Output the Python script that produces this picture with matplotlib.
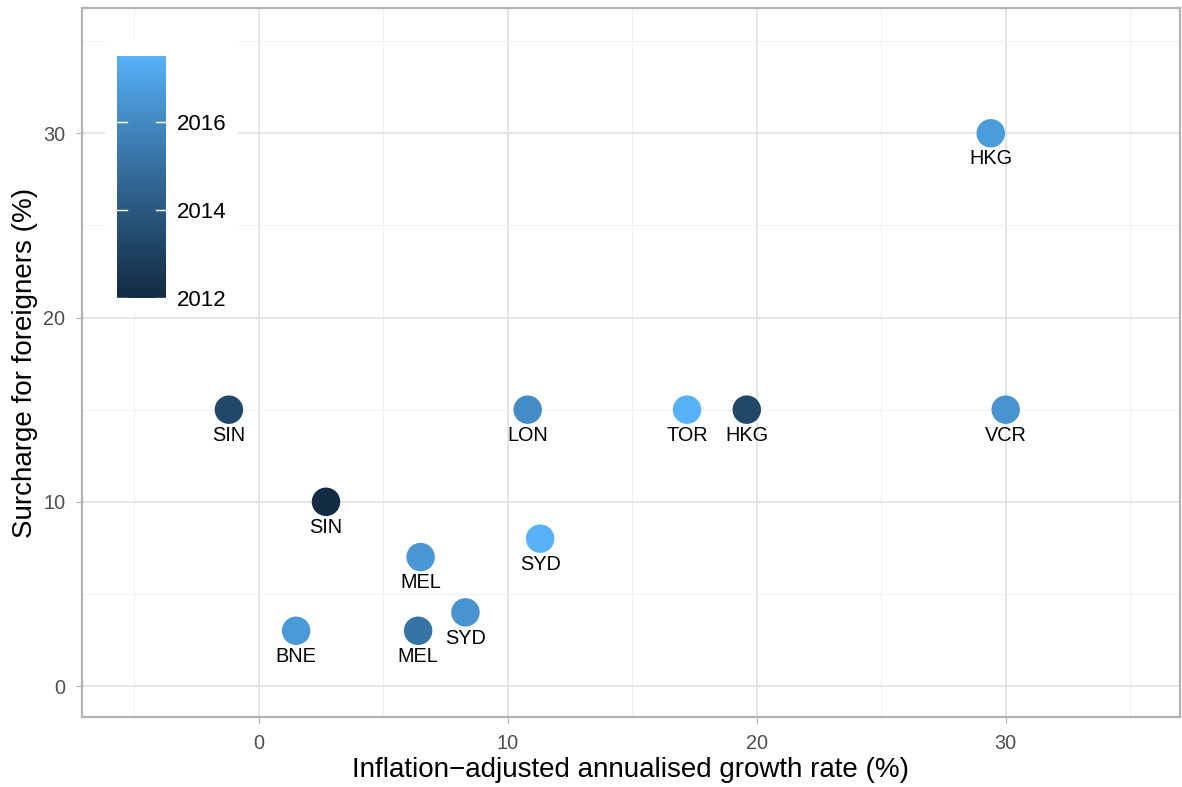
import numpy as np
import matplotlib as mpl
mpl.use('Agg')
import matplotlib.pyplot as plt
from matplotlib.colors import ListedColormap, Normalize

plt.rcParams['font.family'] = ['Liberation Sans', 'DejaVu Sans']

# data
cities = ['SIN', 'SIN', 'BNE', 'MEL', 'MEL', 'SYD', 'SYD', 'LON', 'TOR', 'HKG', 'VCR', 'HKG']
growth = [-1.2, 2.7, 1.5, 6.5, 6.4, 8.3, 11.3, 10.8, 17.2, 19.6, 30.0, 29.4]
surcharge = [15, 10, 3, 7, 3, 4, 8, 15, 15, 15, 15, 30]
year = [2013.3, 2012.0, 2016.6, 2016.5, 2015.1, 2016.4, 2017.5, 2016.1, 2017.5, 2013.3, 2016.4, 2016.7]
cbar_ticks = [2012, 2014, 2016]


# ggplot-style gradient (#132B43 -> #56B1F7) interpolated in Lab space
def srgb_to_lab(c):
    c = np.asarray(c, float)
    lin = np.where(c <= 0.04045, c / 12.92, ((c + 0.055) / 1.055) ** 2.4)
    M = np.array([[0.4124, 0.3576, 0.1805], [0.2126, 0.7152, 0.0722], [0.0193, 0.1192, 0.9505]])
    xyz = M @ lin / np.array([0.95047, 1.0, 1.08883])
    f = np.where(xyz > 0.008856, np.cbrt(xyz), 7.787 * xyz + 16 / 116)
    return np.array([116 * f[1] - 16, 500 * (f[0] - f[1]), 200 * (f[1] - f[2])])


def lab_to_srgb(lab):
    L, a, b = lab
    fy = (L + 16) / 116
    fx = fy + a / 500
    fz = fy - b / 200
    f = np.array([fx, fy, fz])
    xyz = np.where(f ** 3 > 0.008856, f ** 3, (f - 16 / 116) / 7.787) * np.array([0.95047, 1.0, 1.08883])
    Mi = np.array([[3.2406, -1.5372, -0.4986], [-0.9689, 1.8758, 0.0415], [0.0557, -0.2040, 1.0570]])
    lin = Mi @ xyz
    c = np.where(lin <= 0.0031308, 12.92 * lin, 1.055 * np.clip(lin, 0, None) ** (1 / 2.4) - 0.055)
    return np.clip(c, 0, 1)


lo = srgb_to_lab(mpl.colors.to_rgb('#132B43'))
hi = srgb_to_lab(mpl.colors.to_rgb('#56B1F7'))
cmap = ListedColormap([lab_to_srgb(lo + t * (hi - lo)) for t in np.linspace(0, 1, 256)])
norm = Normalize(vmin=min(year), vmax=max(year))

fig = plt.figure(figsize=(11.82, 7.87), dpi=100)
ax = fig.add_axes([82 / 1182, 70 / 787, 1098 / 1182, 709 / 787])

ax.scatter(growth, surcharge, c=year, cmap=cmap, norm=norm, s=420, linewidths=0, zorder=3)
for x, y, lab in zip(growth, surcharge, cities):
    ax.annotate(lab, (x, y), xytext=(0, -18.5), textcoords='offset points',
                ha='center', va='center', fontsize=14.3, color='black', zorder=4)

ax.set_xlim(-7.1, 37.0)
ax.set_ylim(-1.68, 36.8)
ax.set_xticks([0, 10, 20, 30])
ax.set_yticks([0, 10, 20, 30])
ax.set_xticks([-5, 5, 15, 25, 35], minor=True)
ax.set_yticks([5, 15, 25, 35], minor=True)
ax.grid(which='major', color='#dedede', linewidth=1.1)
ax.grid(which='minor', color='#efefef', linewidth=0.6)
ax.set_axisbelow(True)
ax.tick_params(which='major', length=4, color='#b3b3b3', labelsize=14.3, labelcolor='#4d4d4d', pad=8)
ax.tick_params(which='minor', length=0)
for sp in ax.spines.values():
    sp.set_color('#b3b3b3')
    sp.set_linewidth(1.6)

ax.set_xlabel('Inflation\u2212adjusted annualised growth rate (%)', fontsize=20, labelpad=3)
ax.set_ylabel('Surcharge for foreigners (%)', fontsize=20, labelpad=4)

# legend area inside the panel
bg = fig.add_axes([105 / 1182, 1 - 312 / 787, 133 / 1182, 272 / 787])
bg.set_facecolor('white')
bg.set_xticks([])
bg.set_yticks([])
for sp in bg.spines.values():
    sp.set_visible(False)

cax = fig.add_axes([117 / 1182, 1 - 298 / 787, 49 / 1182, 242 / 787])
cb = fig.colorbar(mpl.cm.ScalarMappable(norm=norm, cmap=cmap), cax=cax)
cb.outline.set_visible(False)
cb.set_ticks(cbar_ticks)
cb.ax.tick_params(length=0, labelsize=16, labelcolor='black', pad=8)
for t in cbar_ticks:
    cax.plot([0, 0.2], [t, t], color='white', lw=1, transform=cax.get_yaxis_transform())
    cax.plot([0.8, 1], [t, t], color='white', lw=1, transform=cax.get_yaxis_transform())

fig.savefig('out.png', dpi=100)
